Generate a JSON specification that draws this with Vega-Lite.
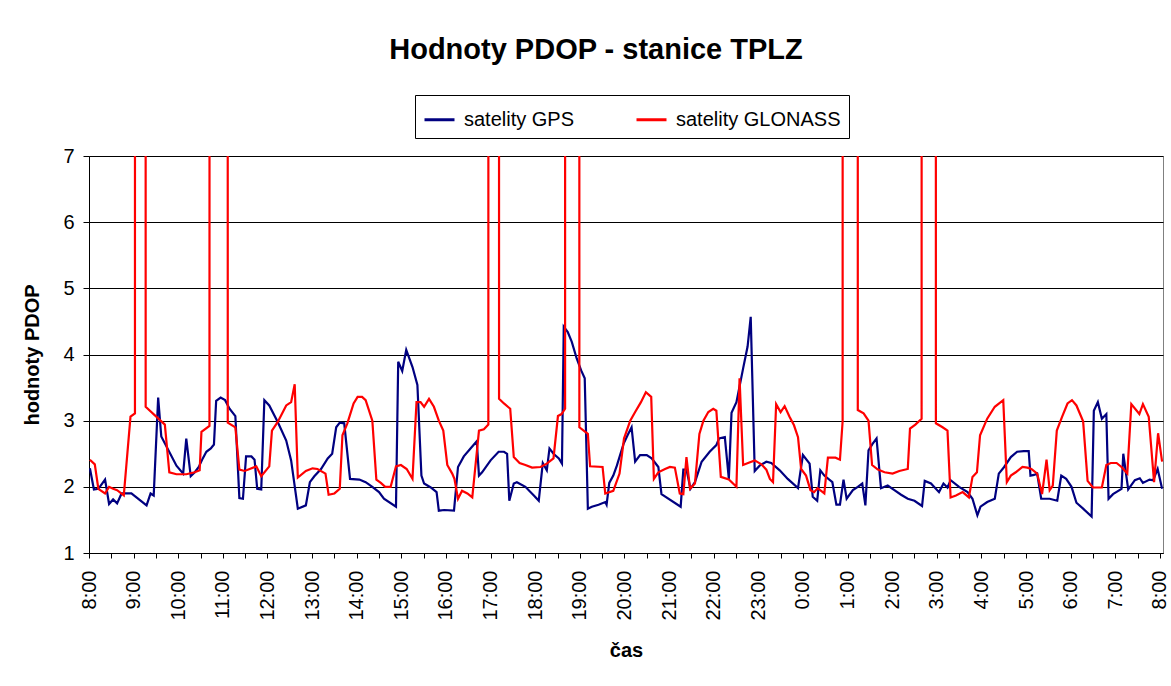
{
  "$schema": "https://vega.github.io/schema/vega-lite/v6.json",
  "autosize": "none",
  "width": 1074,
  "height": 397,
  "padding": {"left": 89, "top": 156, "right": 8, "bottom": 133},
  "background": "white",
  "title": {"text": "Hodnoty PDOP - stanice TPLZ", "fontSize": 29, "font": "Liberation Sans", "fontWeight": "bold", "color": "black", "anchor": "middle", "dx": -30, "offset": 30},
  "datasets": {
    "gps": [
      {"cas": 8.02, "pdop": 2.28}, {"cas": 8.11, "pdop": 1.96}, {"cas": 8.21, "pdop": 1.97}, {"cas": 8.36, "pdop": 2.11}, {"cas": 8.45, "pdop": 1.74}, {"cas": 8.54, "pdop": 1.81}, {"cas": 8.63, "pdop": 1.75}, {"cas": 8.73, "pdop": 1.9}, {"cas": 8.95, "pdop": 1.9}, {"cas": 9.29, "pdop": 1.72}, {"cas": 9.38, "pdop": 1.9}, {"cas": 9.45, "pdop": 1.87}, {"cas": 9.55, "pdop": 3.35}, {"cas": 9.62, "pdop": 2.76}, {"cas": 9.96, "pdop": 2.32}, {"cas": 10.11, "pdop": 2.2}, {"cas": 10.18, "pdop": 2.73}, {"cas": 10.28, "pdop": 2.16}, {"cas": 10.37, "pdop": 2.22}, {"cas": 10.46, "pdop": 2.3}, {"cas": 10.55, "pdop": 2.43}, {"cas": 10.63, "pdop": 2.53}, {"cas": 10.73, "pdop": 2.58}, {"cas": 10.8, "pdop": 2.64}, {"cas": 10.85, "pdop": 3.3}, {"cas": 10.95, "pdop": 3.35}, {"cas": 11.05, "pdop": 3.31}, {"cas": 11.15, "pdop": 3.18}, {"cas": 11.28, "pdop": 3.07}, {"cas": 11.37, "pdop": 1.83}, {"cas": 11.45, "pdop": 1.82}, {"cas": 11.52, "pdop": 2.46}, {"cas": 11.64, "pdop": 2.46}, {"cas": 11.71, "pdop": 2.41}, {"cas": 11.77, "pdop": 1.97}, {"cas": 11.86, "pdop": 1.96}, {"cas": 11.93, "pdop": 3.31}, {"cas": 12.04, "pdop": 3.23}, {"cas": 12.23, "pdop": 2.98}, {"cas": 12.42, "pdop": 2.7}, {"cas": 12.53, "pdop": 2.4}, {"cas": 12.68, "pdop": 1.67}, {"cas": 12.86, "pdop": 1.72}, {"cas": 12.95, "pdop": 2.07}, {"cas": 13.05, "pdop": 2.16}, {"cas": 13.2, "pdop": 2.27}, {"cas": 13.35, "pdop": 2.43}, {"cas": 13.45, "pdop": 2.5}, {"cas": 13.54, "pdop": 2.9}, {"cas": 13.62, "pdop": 2.97}, {"cas": 13.72, "pdop": 2.96}, {"cas": 13.85, "pdop": 2.12}, {"cas": 14.06, "pdop": 2.11}, {"cas": 14.2, "pdop": 2.07}, {"cas": 14.35, "pdop": 2.0}, {"cas": 14.5, "pdop": 1.92}, {"cas": 14.61, "pdop": 1.82}, {"cas": 14.88, "pdop": 1.7}, {"cas": 14.93, "pdop": 3.89}, {"cas": 15.02, "pdop": 3.75}, {"cas": 15.11, "pdop": 4.07}, {"cas": 15.25, "pdop": 3.81}, {"cas": 15.36, "pdop": 3.54}, {"cas": 15.45, "pdop": 2.17}, {"cas": 15.51, "pdop": 2.05}, {"cas": 15.66, "pdop": 1.99}, {"cas": 15.79, "pdop": 1.92}, {"cas": 15.84, "pdop": 1.64}, {"cas": 15.96, "pdop": 1.65}, {"cas": 16.18, "pdop": 1.64}, {"cas": 16.27, "pdop": 2.3}, {"cas": 16.4, "pdop": 2.46}, {"cas": 16.55, "pdop": 2.58}, {"cas": 16.69, "pdop": 2.69}, {"cas": 16.74, "pdop": 2.17}, {"cas": 16.81, "pdop": 2.22}, {"cas": 17.0, "pdop": 2.4}, {"cas": 17.18, "pdop": 2.53}, {"cas": 17.3, "pdop": 2.53}, {"cas": 17.37, "pdop": 2.5}, {"cas": 17.42, "pdop": 1.79}, {"cas": 17.52, "pdop": 2.05}, {"cas": 17.59, "pdop": 2.07}, {"cas": 17.78, "pdop": 2.0}, {"cas": 17.97, "pdop": 1.87}, {"cas": 18.08, "pdop": 1.79}, {"cas": 18.17, "pdop": 2.36}, {"cas": 18.26, "pdop": 2.25}, {"cas": 18.32, "pdop": 2.58}, {"cas": 18.41, "pdop": 2.5}, {"cas": 18.53, "pdop": 2.43}, {"cas": 18.6, "pdop": 2.35}, {"cas": 18.64, "pdop": 4.42}, {"cas": 18.73, "pdop": 4.34}, {"cas": 18.82, "pdop": 4.19}, {"cas": 18.93, "pdop": 3.94}, {"cas": 19.03, "pdop": 3.76}, {"cas": 19.11, "pdop": 3.64}, {"cas": 19.18, "pdop": 1.67}, {"cas": 19.27, "pdop": 1.7}, {"cas": 19.42, "pdop": 1.73}, {"cas": 19.57, "pdop": 1.77}, {"cas": 19.6, "pdop": 1.73}, {"cas": 19.66, "pdop": 2.06}, {"cas": 19.75, "pdop": 2.17}, {"cas": 19.83, "pdop": 2.32}, {"cas": 19.98, "pdop": 2.65}, {"cas": 20.07, "pdop": 2.78}, {"cas": 20.16, "pdop": 2.9}, {"cas": 20.24, "pdop": 2.38}, {"cas": 20.35, "pdop": 2.48}, {"cas": 20.5, "pdop": 2.48}, {"cas": 20.61, "pdop": 2.43}, {"cas": 20.76, "pdop": 2.3}, {"cas": 20.83, "pdop": 1.89}, {"cas": 21.26, "pdop": 1.7}, {"cas": 21.32, "pdop": 2.26}, {"cas": 21.39, "pdop": 2.26}, {"cas": 21.48, "pdop": 1.97}, {"cas": 21.58, "pdop": 2.07}, {"cas": 21.73, "pdop": 2.38}, {"cas": 21.91, "pdop": 2.53}, {"cas": 22.06, "pdop": 2.63}, {"cas": 22.12, "pdop": 2.73}, {"cas": 22.25, "pdop": 2.75}, {"cas": 22.34, "pdop": 2.12}, {"cas": 22.4, "pdop": 3.12}, {"cas": 22.51, "pdop": 3.28}, {"cas": 22.66, "pdop": 3.79}, {"cas": 22.76, "pdop": 4.12}, {"cas": 22.83, "pdop": 4.57}, {"cas": 22.92, "pdop": 2.24}, {"cas": 23.03, "pdop": 2.32}, {"cas": 23.18, "pdop": 2.38}, {"cas": 23.29, "pdop": 2.36}, {"cas": 23.48, "pdop": 2.25}, {"cas": 23.66, "pdop": 2.12}, {"cas": 23.89, "pdop": 1.98}, {"cas": 24.0, "pdop": 2.48}, {"cas": 24.15, "pdop": 2.35}, {"cas": 24.22, "pdop": 1.85}, {"cas": 24.32, "pdop": 1.79}, {"cas": 24.39, "pdop": 2.25}, {"cas": 24.48, "pdop": 2.17}, {"cas": 24.66, "pdop": 2.07}, {"cas": 24.75, "pdop": 1.73}, {"cas": 24.83, "pdop": 1.73}, {"cas": 24.91, "pdop": 2.11}, {"cas": 24.98, "pdop": 1.82}, {"cas": 25.12, "pdop": 1.95}, {"cas": 25.23, "pdop": 2.0}, {"cas": 25.33, "pdop": 2.05}, {"cas": 25.4, "pdop": 1.72}, {"cas": 25.47, "pdop": 2.55}, {"cas": 25.56, "pdop": 2.65}, {"cas": 25.65, "pdop": 2.73}, {"cas": 25.75, "pdop": 1.98}, {"cas": 25.9, "pdop": 2.02}, {"cas": 26.05, "pdop": 1.95}, {"cas": 26.2, "pdop": 1.88}, {"cas": 26.35, "pdop": 1.82}, {"cas": 26.5, "pdop": 1.79}, {"cas": 26.67, "pdop": 1.71}, {"cas": 26.73, "pdop": 2.09}, {"cas": 26.87, "pdop": 2.05}, {"cas": 27.05, "pdop": 1.92}, {"cas": 27.15, "pdop": 2.05}, {"cas": 27.24, "pdop": 1.99}, {"cas": 27.31, "pdop": 2.1}, {"cas": 27.5, "pdop": 2.0}, {"cas": 27.69, "pdop": 1.92}, {"cas": 27.8, "pdop": 1.82}, {"cas": 27.91, "pdop": 1.57}, {"cas": 27.98, "pdop": 1.7}, {"cas": 28.13, "pdop": 1.77}, {"cas": 28.3, "pdop": 1.82}, {"cas": 28.39, "pdop": 2.2}, {"cas": 28.51, "pdop": 2.3}, {"cas": 28.66, "pdop": 2.45}, {"cas": 28.8, "pdop": 2.53}, {"cas": 28.95, "pdop": 2.54}, {"cas": 29.06, "pdop": 2.54}, {"cas": 29.1, "pdop": 2.17}, {"cas": 29.18, "pdop": 2.18}, {"cas": 29.25, "pdop": 2.2}, {"cas": 29.34, "pdop": 1.82}, {"cas": 29.53, "pdop": 1.82}, {"cas": 29.7, "pdop": 1.79}, {"cas": 29.79, "pdop": 2.17}, {"cas": 29.9, "pdop": 2.12}, {"cas": 30.02, "pdop": 2.0}, {"cas": 30.13, "pdop": 1.76}, {"cas": 30.28, "pdop": 1.67}, {"cas": 30.47, "pdop": 1.55}, {"cas": 30.52, "pdop": 3.15}, {"cas": 30.61, "pdop": 3.28}, {"cas": 30.7, "pdop": 3.03}, {"cas": 30.8, "pdop": 3.1}, {"cas": 30.85, "pdop": 1.82}, {"cas": 30.95, "pdop": 1.89}, {"cas": 31.14, "pdop": 1.97}, {"cas": 31.18, "pdop": 2.5}, {"cas": 31.29, "pdop": 1.96}, {"cas": 31.44, "pdop": 2.1}, {"cas": 31.55, "pdop": 2.13}, {"cas": 31.62, "pdop": 2.06}, {"cas": 31.77, "pdop": 2.11}, {"cas": 31.85, "pdop": 2.1}, {"cas": 31.95, "pdop": 2.27}, {"cas": 32.05, "pdop": 1.97}
    ],
    "glonass": [
      {"cas": 8.02, "pdop": 2.41}, {"cas": 8.13, "pdop": 2.34}, {"cas": 8.21, "pdop": 1.97}, {"cas": 8.36, "pdop": 1.9}, {"cas": 8.45, "pdop": 2.0}, {"cas": 8.54, "pdop": 1.97}, {"cas": 8.63, "pdop": 1.95}, {"cas": 8.78, "pdop": 1.87}, {"cas": 8.93, "pdop": 3.06}, {"cas": 9.03, "pdop": 3.11}, {"cas": 9.04, "pdop": 99}, {"cas": 9.26, "pdop": 99}, {"cas": 9.27, "pdop": 3.21}, {"cas": 9.7, "pdop": 2.94}, {"cas": 9.8, "pdop": 2.22}, {"cas": 9.96, "pdop": 2.19}, {"cas": 10.18, "pdop": 2.19}, {"cas": 10.37, "pdop": 2.22}, {"cas": 10.48, "pdop": 2.25}, {"cas": 10.52, "pdop": 2.83}, {"cas": 10.7, "pdop": 2.92}, {"cas": 10.72, "pdop": 99}, {"cas": 11.09, "pdop": 99}, {"cas": 11.11, "pdop": 2.97}, {"cas": 11.28, "pdop": 2.9}, {"cas": 11.37, "pdop": 2.26}, {"cas": 11.49, "pdop": 2.24}, {"cas": 11.75, "pdop": 2.31}, {"cas": 11.86, "pdop": 2.16}, {"cas": 12.04, "pdop": 2.31}, {"cas": 12.1, "pdop": 2.85}, {"cas": 12.23, "pdop": 2.98}, {"cas": 12.42, "pdop": 3.23}, {"cas": 12.53, "pdop": 3.28}, {"cas": 12.61, "pdop": 3.55}, {"cas": 12.68, "pdop": 2.14}, {"cas": 12.86, "pdop": 2.24}, {"cas": 13.01, "pdop": 2.28}, {"cas": 13.12, "pdop": 2.27}, {"cas": 13.3, "pdop": 2.2}, {"cas": 13.37, "pdop": 1.88}, {"cas": 13.5, "pdop": 1.9}, {"cas": 13.62, "pdop": 1.97}, {"cas": 13.68, "pdop": 2.78}, {"cas": 13.79, "pdop": 2.96}, {"cas": 13.93, "pdop": 3.26}, {"cas": 14.02, "pdop": 3.36}, {"cas": 14.12, "pdop": 3.36}, {"cas": 14.2, "pdop": 3.31}, {"cas": 14.35, "pdop": 3.0}, {"cas": 14.44, "pdop": 2.11}, {"cas": 14.54, "pdop": 2.06}, {"cas": 14.64, "pdop": 2.0}, {"cas": 14.76, "pdop": 2.0}, {"cas": 14.88, "pdop": 2.31}, {"cas": 14.99, "pdop": 2.33}, {"cas": 15.12, "pdop": 2.27}, {"cas": 15.25, "pdop": 2.12}, {"cas": 15.34, "pdop": 3.28}, {"cas": 15.43, "pdop": 3.28}, {"cas": 15.51, "pdop": 3.21}, {"cas": 15.62, "pdop": 3.33}, {"cas": 15.73, "pdop": 3.21}, {"cas": 15.84, "pdop": 3.0}, {"cas": 15.94, "pdop": 2.85}, {"cas": 16.03, "pdop": 2.33}, {"cas": 16.14, "pdop": 2.2}, {"cas": 16.19, "pdop": 2.12}, {"cas": 16.27, "pdop": 1.82}, {"cas": 16.36, "pdop": 1.94}, {"cas": 16.48, "pdop": 1.9}, {"cas": 16.59, "pdop": 1.84}, {"cas": 16.74, "pdop": 2.85}, {"cas": 16.85, "pdop": 2.87}, {"cas": 16.95, "pdop": 2.94}, {"cas": 16.96, "pdop": 99}, {"cas": 17.18, "pdop": 99}, {"cas": 17.19, "pdop": 3.33}, {"cas": 17.3, "pdop": 3.26}, {"cas": 17.44, "pdop": 3.18}, {"cas": 17.52, "pdop": 2.45}, {"cas": 17.65, "pdop": 2.36}, {"cas": 17.78, "pdop": 2.33}, {"cas": 17.93, "pdop": 2.29}, {"cas": 18.12, "pdop": 2.3}, {"cas": 18.26, "pdop": 2.35}, {"cas": 18.41, "pdop": 2.43}, {"cas": 18.51, "pdop": 3.07}, {"cas": 18.59, "pdop": 3.1}, {"cas": 18.67, "pdop": 3.18}, {"cas": 18.68, "pdop": 99}, {"cas": 18.98, "pdop": 99}, {"cas": 18.99, "pdop": 2.9}, {"cas": 19.18, "pdop": 2.8}, {"cas": 19.23, "pdop": 2.31}, {"cas": 19.51, "pdop": 2.3}, {"cas": 19.57, "pdop": 1.9}, {"cas": 19.75, "pdop": 1.94}, {"cas": 19.89, "pdop": 2.2}, {"cas": 19.99, "pdop": 2.73}, {"cas": 20.13, "pdop": 3.0}, {"cas": 20.24, "pdop": 3.13}, {"cas": 20.37, "pdop": 3.28}, {"cas": 20.48, "pdop": 3.43}, {"cas": 20.6, "pdop": 3.36}, {"cas": 20.66, "pdop": 2.12}, {"cas": 20.76, "pdop": 2.22}, {"cas": 20.91, "pdop": 2.27}, {"cas": 21.02, "pdop": 2.3}, {"cas": 21.13, "pdop": 2.29}, {"cas": 21.24, "pdop": 1.9}, {"cas": 21.32, "pdop": 1.89}, {"cas": 21.39, "pdop": 2.45}, {"cas": 21.47, "pdop": 1.97}, {"cas": 21.58, "pdop": 2.05}, {"cas": 21.68, "pdop": 2.8}, {"cas": 21.77, "pdop": 3.0}, {"cas": 21.88, "pdop": 3.13}, {"cas": 21.99, "pdop": 3.18}, {"cas": 22.06, "pdop": 3.15}, {"cas": 22.16, "pdop": 2.15}, {"cas": 22.34, "pdop": 2.11}, {"cas": 22.51, "pdop": 2.0}, {"cas": 22.58, "pdop": 3.64}, {"cas": 22.66, "pdop": 2.33}, {"cas": 22.77, "pdop": 2.36}, {"cas": 22.92, "pdop": 2.4}, {"cas": 23.07, "pdop": 2.34}, {"cas": 23.18, "pdop": 2.26}, {"cas": 23.26, "pdop": 2.12}, {"cas": 23.33, "pdop": 2.07}, {"cas": 23.4, "pdop": 3.25}, {"cas": 23.5, "pdop": 3.13}, {"cas": 23.59, "pdop": 3.22}, {"cas": 23.7, "pdop": 3.06}, {"cas": 23.8, "pdop": 2.93}, {"cas": 23.89, "pdop": 2.75}, {"cas": 23.96, "pdop": 2.27}, {"cas": 24.07, "pdop": 2.17}, {"cas": 24.17, "pdop": 1.95}, {"cas": 24.25, "pdop": 1.92}, {"cas": 24.33, "pdop": 1.98}, {"cas": 24.48, "pdop": 1.9}, {"cas": 24.56, "pdop": 2.44}, {"cas": 24.73, "pdop": 2.44}, {"cas": 24.83, "pdop": 2.41}, {"cas": 24.89, "pdop": 2.99}, {"cas": 24.9, "pdop": 99}, {"cas": 25.22, "pdop": 99}, {"cas": 25.23, "pdop": 3.16}, {"cas": 25.36, "pdop": 3.11}, {"cas": 25.47, "pdop": 3.0}, {"cas": 25.55, "pdop": 2.33}, {"cas": 25.68, "pdop": 2.26}, {"cas": 25.83, "pdop": 2.22}, {"cas": 26.01, "pdop": 2.2}, {"cas": 26.16, "pdop": 2.24}, {"cas": 26.35, "pdop": 2.27}, {"cas": 26.4, "pdop": 2.88}, {"cas": 26.52, "pdop": 2.94}, {"cas": 26.66, "pdop": 3.03}, {"cas": 26.67, "pdop": 99}, {"cas": 26.97, "pdop": 99}, {"cas": 26.98, "pdop": 2.96}, {"cas": 27.13, "pdop": 2.9}, {"cas": 27.24, "pdop": 2.85}, {"cas": 27.31, "pdop": 1.84}, {"cas": 27.43, "pdop": 1.87}, {"cas": 27.58, "pdop": 1.92}, {"cas": 27.72, "pdop": 1.84}, {"cas": 27.8, "pdop": 2.15}, {"cas": 27.9, "pdop": 2.22}, {"cas": 27.97, "pdop": 2.78}, {"cas": 28.13, "pdop": 3.03}, {"cas": 28.3, "pdop": 3.21}, {"cas": 28.49, "pdop": 3.31}, {"cas": 28.57, "pdop": 2.07}, {"cas": 28.66, "pdop": 2.17}, {"cas": 28.77, "pdop": 2.22}, {"cas": 28.92, "pdop": 2.3}, {"cas": 29.03, "pdop": 2.29}, {"cas": 29.12, "pdop": 2.27}, {"cas": 29.25, "pdop": 2.2}, {"cas": 29.36, "pdop": 1.89}, {"cas": 29.46, "pdop": 2.41}, {"cas": 29.53, "pdop": 1.95}, {"cas": 29.6, "pdop": 2.02}, {"cas": 29.69, "pdop": 2.85}, {"cas": 29.81, "pdop": 3.06}, {"cas": 29.93, "pdop": 3.26}, {"cas": 30.03, "pdop": 3.31}, {"cas": 30.13, "pdop": 3.23}, {"cas": 30.28, "pdop": 2.99}, {"cas": 30.38, "pdop": 2.09}, {"cas": 30.5, "pdop": 1.99}, {"cas": 30.7, "pdop": 1.99}, {"cas": 30.8, "pdop": 2.33}, {"cas": 30.9, "pdop": 2.36}, {"cas": 31.03, "pdop": 2.36}, {"cas": 31.14, "pdop": 2.3}, {"cas": 31.27, "pdop": 2.2}, {"cas": 31.36, "pdop": 3.25}, {"cas": 31.54, "pdop": 3.1}, {"cas": 31.62, "pdop": 3.25}, {"cas": 31.75, "pdop": 3.06}, {"cas": 31.87, "pdop": 2.07}, {"cas": 31.96, "pdop": 2.81}, {"cas": 32.05, "pdop": 2.38}
    ]
  },
  "encoding": {
    "x": {
      "field": "cas", "type": "quantitative",
      "scale": {"domain": [8, 32.07], "nice": false, "zero": false},
      "axis": {
        "title": "čas",
        "values": [8, 8.5, 9, 9.5, 10, 10.5, 11, 11.5, 12, 12.5, 13, 13.5, 14, 14.5, 15, 15.5, 16, 16.5, 17, 17.5, 18, 18.5, 19, 19.5, 20, 20.5, 21, 21.5, 22, 22.5, 23, 23.5, 24, 24.5, 25, 25.5, 26, 26.5, 27, 27.5, 28, 28.5, 29, 29.5, 30, 30.5, 31, 31.5, 32],
        "labelExpr": "datum.value % 1 === 0 ? (datum.value % 24) + ':00' : ''",
        "labelAngle": 270,
        "labelAlign": "right",
        "labelBaseline": "middle",
        "labelPadding": 12,
        "labelOverlap": false,
        "labelFlush": false,
        "labelBound": false,
        "tickSize": 5,
        "grid": false,
        "titlePadding": 20
      }
    },
    "y": {
      "field": "pdop", "type": "quantitative",
      "scale": {"domain": [1, 7], "nice": false, "zero": false},
      "axis": {
        "title": "hodnoty PDOP",
        "values": [1, 2, 3, 4, 5, 6, 7],
        "grid": true,
        "tickSize": 6,
        "labelPadding": 9,
        "titlePadding": 20
      }
    },
    "color": {
      "datum": "satelity GPS",
      "type": "nominal",
      "scale": {"domain": ["satelity GPS", "satelity GLONASS"], "range": ["#000080", "#FF0000"]},
      "legend": {
        "orient": "none", "legendX": 326, "legendY": -61, "direction": "horizontal",
        "title": null, "symbolType": "stroke", "symbolSize": 900, "symbolStrokeWidth": 3,
        "labelFontSize": 20, "labelFont": "Liberation Sans", "labelColor": "black", "labelLimit": 400,
        "labelOffset": 8, "columnPadding": 55, "padding": 8,
        "strokeColor": "black", "fillColor": "white"
      }
    }
  },
  "layer": [
    {"data": {"name": "gps"}, "mark": {"type": "line", "strokeWidth": 2.2, "clip": true}},
    {"data": {"name": "glonass"}, "mark": {"type": "line", "strokeWidth": 2.2, "clip": true}, "encoding": {"color": {"datum": "satelity GLONASS", "type": "nominal"}}}
  ],
  "config": {
    "font": "Liberation Sans",
    "view": {"stroke": "#808080", "strokeWidth": 1},
    "axis": {
      "labelFont": "Liberation Sans", "labelFontSize": 20, "labelColor": "black",
      "titleFont": "Liberation Sans", "titleFontSize": 20, "titleFontWeight": "bold", "titleColor": "black",
      "domainColor": "black", "domainWidth": 1, "tickColor": "black", "tickWidth": 1,
      "gridColor": "black", "gridOpacity": 1, "gridWidth": 1
    }
  }
}
